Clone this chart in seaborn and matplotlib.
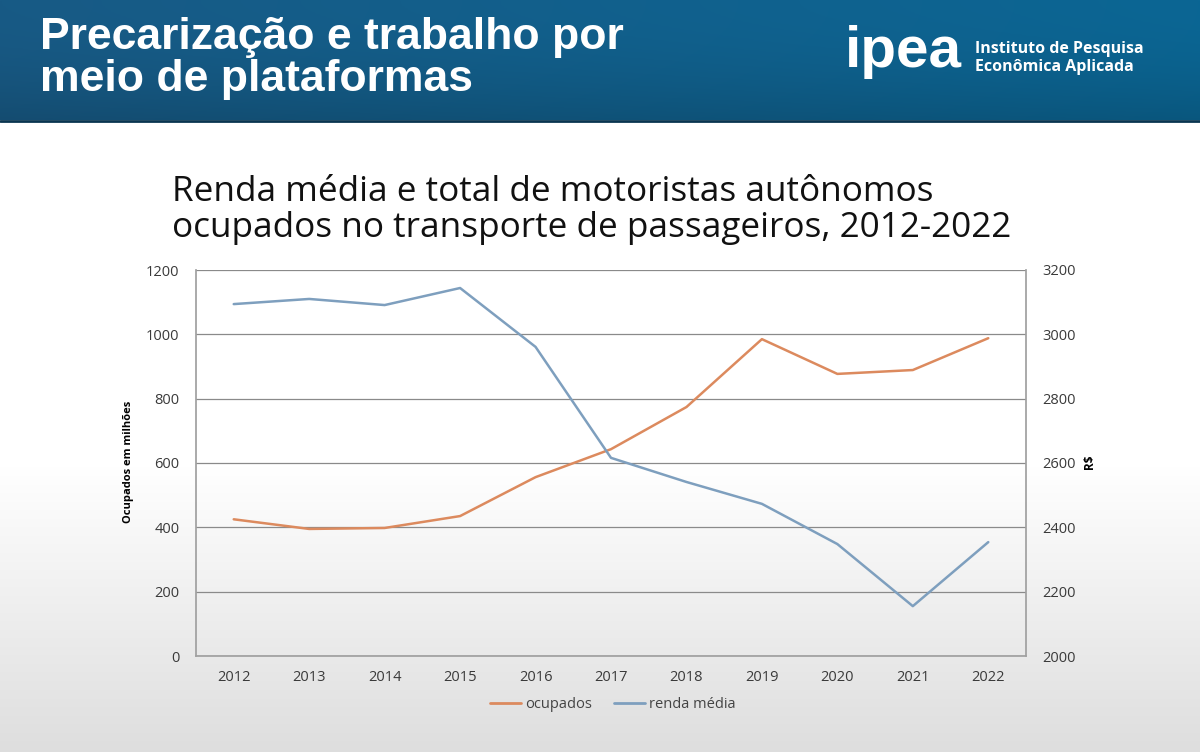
import numpy as np
import pandas as pd
import matplotlib
matplotlib.use("Agg")
import matplotlib.pyplot as plt
from matplotlib.lines import Line2D
import seaborn as sns

# ---- data ----
years = ["2012", "2013", "2014", "2015", "2016", "2017", "2018", "2019", "2020", "2021", "2022"]
ocupados = [425, 395, 398, 435, 556, 643, 774, 985, 877, 889, 988]
renda_media = [3094, 3110, 3091, 3144, 2961, 2616, 2541, 2473, 2348, 2155, 2354]
left_ticks = [0, 200, 400, 600, 800, 1000, 1200]
right_ticks = [2000, 2200, 2400, 2600, 2800, 3000, 3200]

df = pd.DataFrame({"ano": years, "pos": np.arange(len(years)),
                   "ocupados": ocupados, "renda": renda_media})

sns.set_theme(style="white")
plt.rcParams["font.family"] = ["Open Sans", "DejaVu Sans"]

W, H = 1200, 752
fig = plt.figure(figsize=(W / 100, H / 100), dpi=100)

# ---- background ----
bg = fig.add_axes([0, 0, 1, 1])
bg.set_xlim(0, W)
bg.set_ylim(H, 0)
bg.axis("off")
yy = np.linspace(0, 1, 300)[:, None]
page = np.ones((300, 2, 3))
shade = np.clip((yy - 0.55) / 0.45, 0, 1)
page = page * (1 - 0.13 * shade[..., None])
bg.imshow(page, extent=[0, W, H, 120], aspect="auto", zorder=0)
xx = np.linspace(0, 1, 400)[None, :]
yh = np.linspace(0, 1, 60)[:, None]
c1 = np.array([0x18, 0x5a, 0x85]) / 255
c2 = np.array([0x0b, 0x66, 0x94]) / 255
t = xx + 0 * yh
head = c1[None, None, :] * (1 - t[..., None]) + c2[None, None, :] * t[..., None]
head = head * (1 - 0.15 * (yh[..., None] ** 2))
bg.imshow(head, extent=[0, W, 120, 0], aspect="auto", zorder=1)
bg.plot([0, W], [121, 121], color="#0a3550", lw=2, zorder=2)

bg.text(40, 38, "Precarização e trabalho por", color="white", fontsize=32,
        fontweight="bold", family="Liberation Sans", va="center", ha="left", zorder=3)
bg.text(40, 80, "meio de plataformas", color="white", fontsize=32,
        fontweight="bold", family="Liberation Sans", va="center", ha="left", zorder=3)
bg.text(845, 52, "ipea", color="white", fontsize=42, fontweight="bold",
        family="Liberation Sans", va="center", ha="left", zorder=3)
bg.text(975, 49, "Instituto de Pesquisa", color="white", fontsize=11.5,
        fontweight="bold", family="Open Sans", va="center", ha="left", zorder=3)
bg.text(975, 67, "Econômica Aplicada", color="white", fontsize=11.5,
        fontweight="bold", family="Open Sans", va="center", ha="left", zorder=3)

bg.text(172, 192, "Renda média e total de motoristas autônomos", color="#111111",
        fontsize=25.3, va="center", ha="left", family="Open Sans", zorder=3)
bg.text(172, 228, "ocupados no transporte de passageiros, 2012-2022", color="#111111",
        fontsize=25.3, va="center", ha="left", family="Open Sans", zorder=3)

# ---- chart ----
L, R, T, B = 196, 1026, 270, 656
ax = fig.add_axes([L / W, 1 - B / H, (R - L) / W, (B - T) / H])
ax.patch.set_alpha(0)
ax2 = ax.twinx()
ax2.patch.set_alpha(0)

orange = "#dc8a5e"
blue = "#7e9fbe"
sns.lineplot(data=df, x="pos", y="ocupados", ax=ax, color=orange, lw=1.8, legend=False)
sns.lineplot(data=df, x="pos", y="renda", ax=ax2, color=blue, lw=1.8, legend=False)

ax.set_xlim(-0.5, len(years) - 0.5)
ax.set_ylim(0, 1200)
ax2.set_ylim(2000, 3200)
ax.set_yticks(left_ticks)
ax2.set_yticks(right_ticks)
ax.set_xticks(np.arange(len(years)))
ax.set_xticklabels(years)
ax.set_xticks(np.arange(len(years) + 1) - 0.5, minor=True)
ax.tick_params(axis="x", which="major", length=0, pad=10, labelsize=10.5, labelcolor="#3a3a3a")
ax.tick_params(axis="x", which="minor", length=5, color="#999999", width=1)
ax.tick_params(axis="y", length=0, pad=12, labelsize=10.5, labelcolor="#3a3a3a")
ax2.tick_params(axis="y", length=0, pad=12, labelsize=10.5, labelcolor="#3a3a3a")
ax.grid(axis="y", color="#8a8a8a", lw=0.9)
ax.set_axisbelow(True)
for a in (ax, ax2):
    for s in a.spines.values():
        s.set_visible(False)
ax.spines["left"].set_visible(True)
ax.spines["left"].set_color("#a0a0a0")
ax.spines["bottom"].set_visible(True)
ax.spines["bottom"].set_color("#a0a0a0")
ax2.spines["right"].set_visible(True)
ax2.spines["right"].set_color("#a0a0a0")
ax.set_xlabel("")
ax.set_ylabel("")
ax2.set_ylabel("")

bg.text(129, 462, "Ocupados em milhões", rotation=90, fontsize=8, fontweight="bold",
        color="black", va="center", ha="center", family="Open Sans", zorder=3)
bg.text(1090, 462, "R$", rotation=90, fontsize=8.5, fontweight="bold",
        color="black", va="center", ha="center", family="Open Sans", zorder=3)

handles = [Line2D([], [], color=orange, lw=2), Line2D([], [], color=blue, lw=2)]
fig.legend(handles, ["ocupados", "renda média"], loc="center",
           bbox_to_anchor=(613 / W, 1 - 705 / H), ncol=2, frameon=False,
           fontsize=10.5, handlelength=2.1, columnspacing=1.5, handletextpad=0.3,
           labelcolor="#444444")

fig.savefig("out.png", dpi=100)
